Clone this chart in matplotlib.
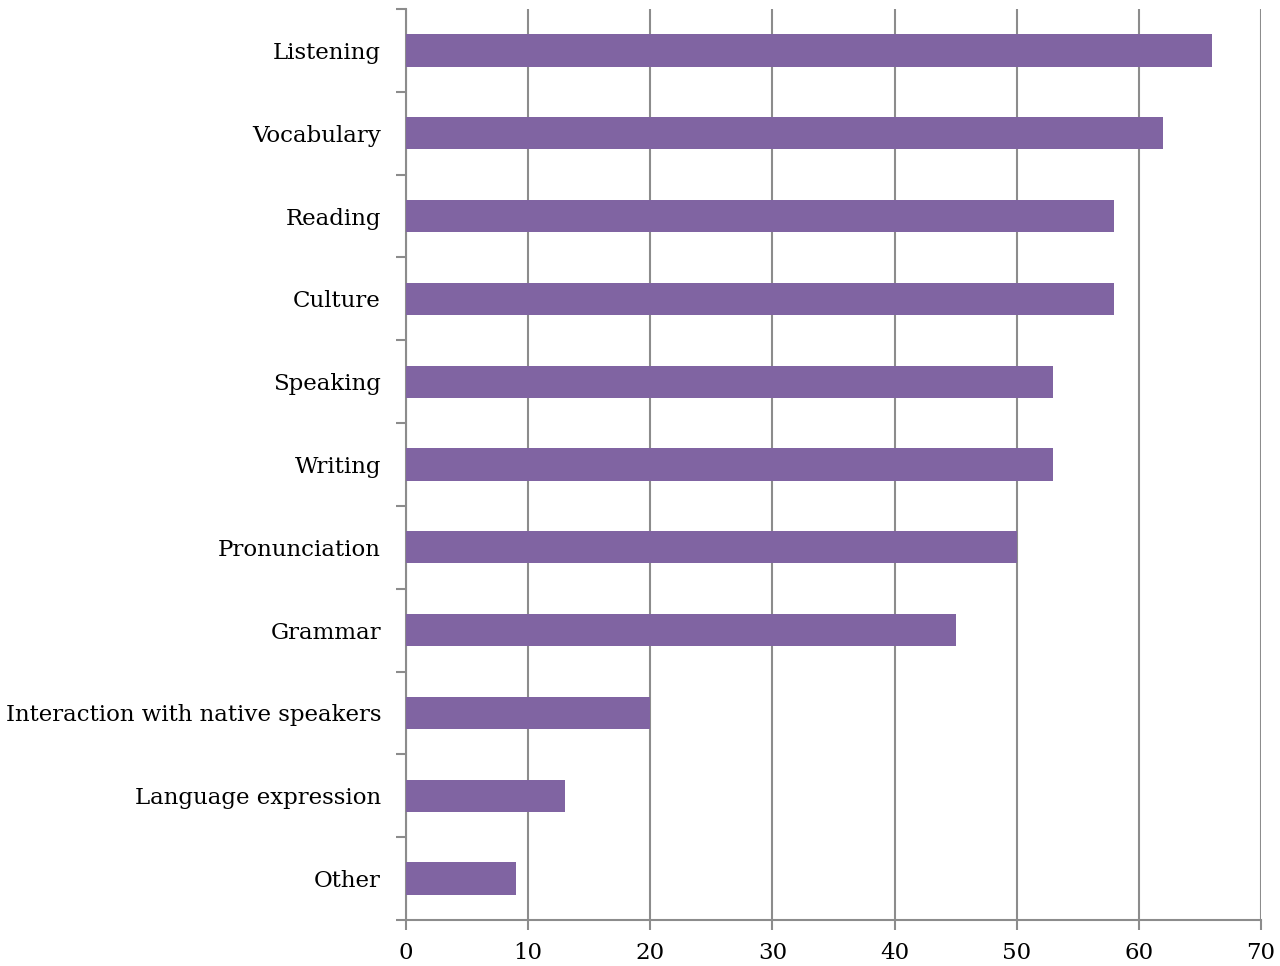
import numpy as np
import matplotlib
matplotlib.use("Agg")
import matplotlib.pyplot as plt
from matplotlib.ticker import FixedLocator

# Data (top to bottom as shown)
categories = ["Listening", "Vocabulary", "Reading", "Culture", "Speaking", "Writing",
              "Pronunciation", "Grammar", "Interaction with native speakers",
              "Language expression", "Other"]
values = [66, 62, 58, 58, 53, 53, 50, 45, 20, 13, 9]
x_ticks = [0, 10, 20, 30, 40, 50, 60, 70]

BAR_COLOR = "#8064A2"
GRID_COLOR = "#8c8c8c"

plt.rcParams["font.family"] = ["DejaVu Serif"]

fig = plt.figure(figsize=(12.8, 9.66), dpi=100)
ax = fig.add_axes([406 / 1280, 1 - 920 / 966, (1261 - 406) / 1280, (920 - 9) / 966])

y = np.arange(len(categories))
ax.barh(y, values, height=0.39, color=BAR_COLOR, zorder=3)

ax.set_xlim(0, 70)
ax.set_ylim(len(categories) - 0.5, -0.5)

ax.set_xticks(x_ticks)
ax.set_xticklabels([str(t) for t in x_ticks])
ax.set_yticks(y)
ax.set_yticklabels(categories)
ax.yaxis.set_minor_locator(FixedLocator(np.arange(-0.5, len(categories), 1.0)))

ax.xaxis.grid(True, color=GRID_COLOR, linewidth=1.5, zorder=0)
ax.set_axisbelow(True)

for side in ["top", "right"]:
    ax.spines[side].set_visible(False)
for side in ["left", "bottom"]:
    ax.spines[side].set_color(GRID_COLOR)
    ax.spines[side].set_linewidth(1.5)

ax.tick_params(axis="y", which="major", length=0, pad=18, labelsize=16.5)
ax.tick_params(axis="y", which="minor", length=7, width=1.5, color=GRID_COLOR)
ax.tick_params(axis="x", which="major", length=7, width=1.5, color=GRID_COLOR, pad=9, labelsize=16.5)

fig.savefig("out.png", dpi=100)
